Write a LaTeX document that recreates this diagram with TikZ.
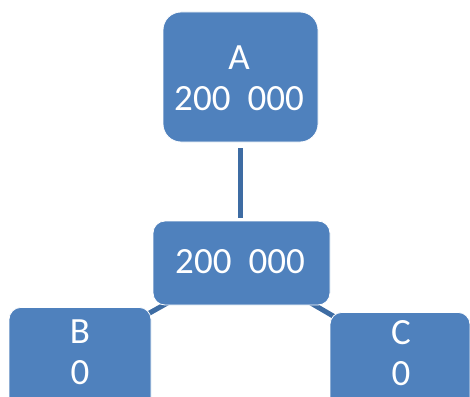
\documentclass[tikz,border=0pt]{standalone}
\usepackage{fontspec}
\setmainfont{Carlito}
\definecolor{boxblue}{HTML}{4F81BD}
\definecolor{linkblue}{HTML}{3E6CA3}
\begin{document}
\begin{tikzpicture}[x=1pt,y=-1pt,
  box/.style={fill=boxblue,draw=white,line width=0.8pt,rounded corners=#1,inner sep=0pt},
  box/.default=14pt,
  txt/.style={text=white,align=center,inner sep=0pt,font=\fontsize{37}{41}\selectfont},
  link/.style={draw=linkblue,line width=5pt}]
\useasboundingbox (0,0) rectangle (470,396);
\clip (0,0) rectangle (470,396);
% connectors to B and C (mostly hidden behind boxes)
\coordinate (mc) at (240.5,262);
\coordinate (bc) at (80,352);
\coordinate (cc) at (400,355);
\draw[link] (mc) -- (bc);
\draw[link] (mc) -- (cc);
% boxes
\node[box=18pt,minimum width=155pt,minimum height=130pt] (A) at (240.5,77) {};
\node[box=12pt,minimum width=177pt,minimum height=84pt] (M) at (241.5,263) {};
\node[box=12pt,minimum width=142pt,minimum height=110pt,anchor=north] (B) at (80,307) {};
\node[box=12pt,minimum width=140pt,minimum height=110pt,anchor=north] (C) at (400,312) {};
% vertical connector A - M
\draw[link,shorten <=6pt,shorten >=3pt] (A.south) -- (A.south |- M.north);
% texts
\node[txt] (At) at (239,78) {A\\200\hspace{17pt}000};
\node[txt] (Mt) at (240,262) {200\hspace{17pt}000};
\node[txt] (Bt) at (80,352) {B\\0};
\node[txt] (Ct) at (401,353) {C\\0};
\end{tikzpicture}
\end{document}
